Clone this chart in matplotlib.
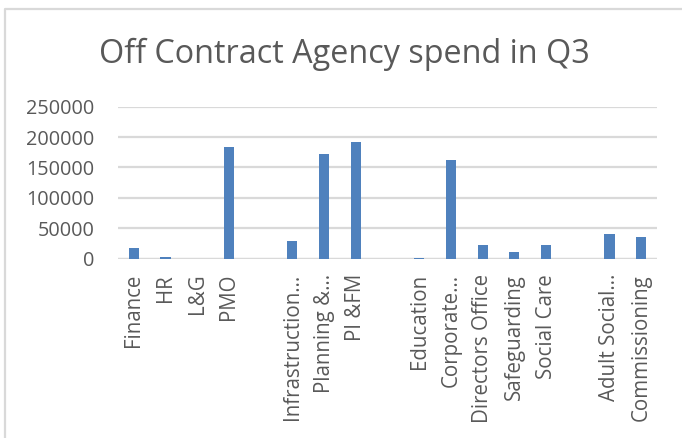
import matplotlib
matplotlib.use("Agg")
import matplotlib.pyplot as plt
from matplotlib.lines import Line2D

categories = ["Finance", "HR", "L&G", "PMO", "",
              "Infrastruction…", "Planning &…", "PI &FM", "",
              "Education", "Corporate…", "Directors Office", "Safeguarding",
              "Social Care", "", "Adult Social…", "Commissioning"]
spend = [17500, 2000, 0, 184000, 0,
         29000, 172000, 191500, 0,
         1000, 162500, 22500, 10000,
         22500, 0, 40000, 35000]
y_ticks = [0, 50000, 100000, 150000, 200000, 250000]

text_color = "#595959"
grid_color = "#D9D9D9"
bar_color = "#4F81BD"
font = ["Open Sans", "DejaVu Sans"]

W, H = 682, 438
fig = plt.figure(figsize=(W / 100, H / 100), dpi=100)

# chart frame (top and left edges)
fig.add_artist(Line2D([5 / W, 5 / W, 1.0], [0.0, 1 - 8.5 / H, 1 - 8.5 / H],
                      transform=fig.transFigure, color=grid_color, lw=1.6))

left, right = 118 / W, 657 / W
bottom, top = 1 - 258.5 / H, 1 - 106.7 / H
ax = fig.add_axes([left, bottom, right - left, top - bottom])

x = list(range(len(categories)))
ax.bar(x, spend, width=0.32, color=bar_color, zorder=3)

ax.set_xlim(-0.5, len(categories) - 0.5)
ax.set_ylim(0, 250000)
ax.set_yticks(y_ticks)
ax.set_yticklabels([str(v) for v in y_ticks], fontsize=14.3, color=text_color,
                   family=font)
ax.set_xticks(x)
ax.set_xticklabels(categories, rotation=90, fontsize=14.8, color=text_color,
                   family=font, va="top", ha="center")
ax.tick_params(axis="both", length=0)
ax.tick_params(axis="x", pad=11)
ax.tick_params(axis="y", pad=17)
ax.yaxis.grid(True, color=grid_color, lw=1.6, zorder=0)
for s in ax.spines.values():
    s.set_visible(False)
ax.axhline(0, color=grid_color, lw=1.6, zorder=2)

fig.text(0.505, 1 - 54 / H, "Off Contract Agency spend in Q3", ha="center",
         va="center", fontsize=23.3, color=text_color, family=font)

fig.savefig("out.png", dpi=100, facecolor="white")
